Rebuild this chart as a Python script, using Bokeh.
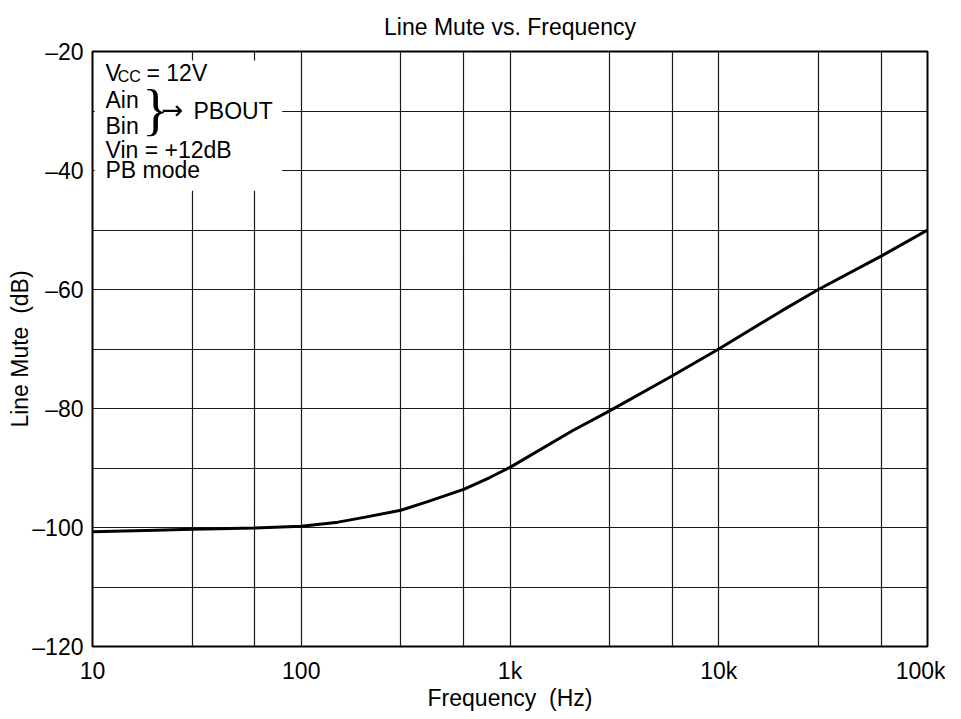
from bokeh.plotting import figure
from bokeh.models import FixedTicker, BoxAnnotation, Label, Range1d
from bokeh.embed import file_html
from bokeh.resources import INLINE

# ---- data ----
freq_hz = [10, 20, 30, 60, 100, 150, 200, 300, 400, 600, 800, 1000,
           2000, 3000, 6000, 10000, 20000, 30000, 60000, 100000]
mute_db = [-100.7, -100.45, -100.3, -100.1, -99.8, -99.1, -98.3, -97.1, -95.7, -93.6, -91.6, -89.9,
           -83.7, -80.4, -74.5, -70.0, -63.6, -60.0, -54.4, -50.0]

x_major = [10, 100, 1000, 10000, 100000]
x_minor = [30, 60, 300, 600, 3000, 6000, 30000, 60000]
x_tick_labels = ["10", "100", "1k", "10k", "100k"]
y_major = [-120, -100, -80, -60, -40, -20]
y_minor = [-110, -90, -70, -50, -30]
y_tick_labels = ["–120", "–100", "–80", "–60", "–40", "–20"]

FONT = "Liberation Sans"
FS = "23px"

p = figure(width=945, height=715, x_axis_type="log",
           x_range=Range1d(10, 100000), y_range=Range1d(-120, -20),
           output_backend="svg", toolbar_location=None,
           min_border_left=92, min_border_right=18, min_border_top=51, min_border_bottom=69)

p.title.text = "Line Mute vs. Frequency"
p.title.align = "center"
p.title.vertical_align = "top"
p.title.standoff = 20
p.title.text_font = FONT
p.title.text_font_size = FS
p.title.text_font_style = "normal"
p.title.text_color = "black"

p.outline_line_color = "black"
p.outline_line_width = 2
p.outline_line_alpha = 1

p.xaxis.ticker = FixedTicker(ticks=x_major, minor_ticks=x_minor)
p.yaxis.ticker = FixedTicker(ticks=y_major, minor_ticks=y_minor)
p.xaxis.major_label_overrides = dict(zip(x_major, x_tick_labels))
p.yaxis.major_label_overrides = dict(zip(y_major, y_tick_labels))

for ax in (p.xaxis, p.yaxis):
    ax.axis_line_color = None
    ax.major_tick_line_color = None
    ax.minor_tick_line_color = None
    ax.major_tick_out = 0
    ax.major_tick_in = 0
    ax.minor_tick_out = 0
    ax.minor_tick_in = 0
    ax.major_label_text_font = FONT
    ax.major_label_text_font_size = FS
    ax.major_label_text_color = "black"
    ax.axis_label_text_font = FONT
    ax.axis_label_text_font_size = FS
    ax.axis_label_text_font_style = "normal"
    ax.axis_label_text_color = "black"

p.xaxis.axis_label = "Frequency \u00a0(Hz)"
p.yaxis.axis_label = "Line Mute \u00a0(dB)"
p.xaxis.major_label_standoff = 11
p.xaxis.axis_label_standoff = -2
p.yaxis.major_label_standoff = 9
p.yaxis.axis_label_standoff = -4

for g in (p.xgrid, p.ygrid):
    g.grid_line_color = "#1a1a1a"
    g.grid_line_width = 1.2
    g.grid_line_alpha = 1
    g.minor_grid_line_color = "#1a1a1a"
    g.minor_grid_line_width = 1.2
    g.minor_grid_line_alpha = 1

p.line(freq_hz, mute_db, line_color="black", line_width=3)

# white panel behind the condition notes
p.add_layout(BoxAnnotation(left=10.25, right=81, top=-21.5, bottom=-43.4,
                           fill_color="white", fill_alpha=1, line_color=None))

def note(x, y, text, size=FS, align="left", baseline="alphabetic", font=FONT):
    p.add_layout(Label(x=x, y=y, text=text, text_font=font, text_font_size=size,
                       text_color="black", text_align=align, text_baseline=baseline))

note(11.54, -23.57, "V")
note(13.2, -24.25, "CC", size="16px")
note(18.14, -23.57, "= 12V")
note(11.54, -28.11, "Ain")
note(11.54, -32.48, "Bin")
note(20.0, -29.8, "}", size="56px", align="center", font="Liberation Serif")
note(21.4, -29.76, "→", size="26px", font="DejaVu Sans")
note(30.47, -29.96, "PBOUT")
note(11.54, -36.52, "Vin = +12dB")
note(11.54, -39.88, "PB mode")

open("out.html", "w").write(file_html(p, INLINE))
